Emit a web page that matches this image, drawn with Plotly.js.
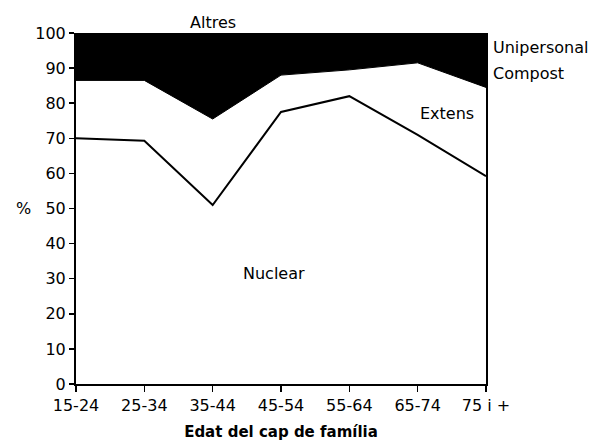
<!DOCTYPE html>
<html>
<head>
<meta charset="utf-8">
<script src="https://cdn.plot.ly/plotly-3.0.1.min.js"></script>
<style>html,body{margin:0;padding:0;background:#fff;}#chart{width:597px;height:443px;}</style>
</head>
<body>
<div id="chart"></div>
<script>
var categories = ["15-24","25-34","35-44","45-54","55-64","65-74","75 i +"];
var nuclear = [70, 69.3, 51, 77.5, 82, 71, 59.2];
var extens = [16.5, 17.2, 24.5, 10.5, 7.5, 20.5, 25.3];
var altres = nuclear.map(function(v,i){ return 100 - v - extens[i]; });

var F = "DejaVu Sans, Liberation Sans, Arial, sans-serif";

var traces = [
  {x: categories, y: nuclear, name: "Nuclear", type: "scatter", mode: "lines", stackgroup: "one",
   fillcolor: "#ffffff", line: {color: "#000", width: 2}},
  {x: categories, y: extens, name: "Extens", type: "scatter", mode: "lines", stackgroup: "one",
   fillcolor: "#ffffff", line: {color: "#000", width: 1}},
  {x: categories, y: altres, name: "Altres", type: "scatter", mode: "lines", stackgroup: "one",
   fillcolor: "#000000", line: {color: "#000", width: 1}}
];

var layout = {
  width: 597, height: 443,
  margin: {l: 76, r: 111, t: 33, b: 59},
  paper_bgcolor: "#fff", plot_bgcolor: "#fff",
  showlegend: false,
  font: {family: F, color: "#000", size: 16},
  xaxis: {
    type: "category", range: [0, 6], showgrid: false, zeroline: false,
    showline: true, linecolor: "#000", linewidth: 2,
    ticks: "outside", ticklen: 6, tickwidth: 1.5, tickcolor: "#000",
    tickfont: {family: F, size: 16},
    title: {text: "<b>Edat del cap de família</b>", font: {family: F, size: 15}, standoff: 12}
  },
  yaxis: {
    range: [0, 100], tickvals: [0,10,20,30,40,50,60,70,80,90,100],
    showgrid: false, zeroline: false,
    showline: true, linecolor: "#000", linewidth: 2, mirror: true,
    ticks: "outside", ticklen: 5, tickwidth: 1.5, tickcolor: "#000",
    tickfont: {family: F, size: 16}
  },
  annotations: [
    {text: "%", xref: "paper", yref: "y", x: 0, y: 50, xshift: -62, showarrow: false, font: {size: 16}},
    {text: "Altres", xref: "x", yref: "paper", x: 2, y: 1, yanchor: "middle", yshift: 11, showarrow: false, font: {size: 16}},
    {text: "Unipersonal", xref: "x", yref: "y", x: 6, y: 96, xanchor: "left", xshift: 5, showarrow: false, font: {size: 16}},
    {text: "Compost", xref: "x", yref: "y", x: 6, y: 88.6, xanchor: "left", xshift: 5, showarrow: false, font: {size: 16}},
    {text: "Extens", xref: "x", yref: "y", x: 5.43, y: 77.2, showarrow: false, font: {size: 16}},
    {text: "Nuclear", xref: "x", yref: "y", x: 2.9, y: 31.6, showarrow: false, font: {size: 16}}
  ]
};

Plotly.newPlot("chart", traces, layout, {staticPlot: true});
</script>
</body>
</html>
